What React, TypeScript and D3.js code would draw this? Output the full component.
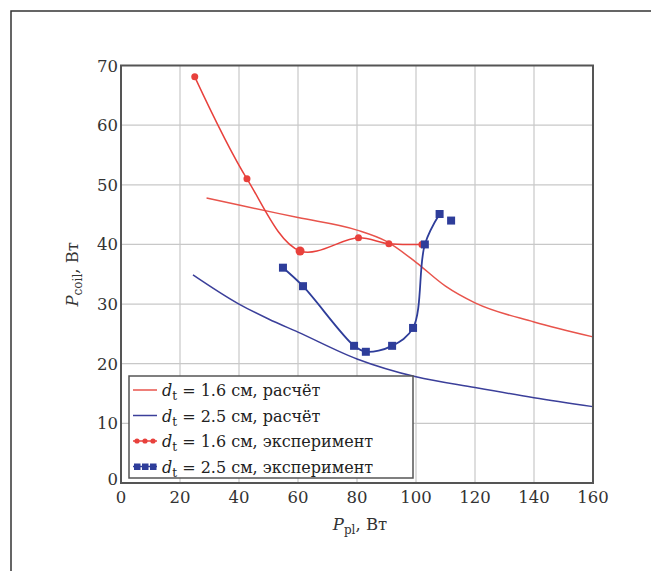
import React from "react";
import * as d3 from "d3";

const xTicks = [0, 20, 40, 60, 80, 100, 120, 140, 160];
const yTicks = [0, 10, 20, 30, 40, 50, 60, 70];

const redCalcX = [29, 40, 60, 80, 90, 100, 110, 120, 140, 160];
const redCalcY = [47.8, 46.6, 44.5, 42.4, 40.5, 37, 33, 30.2, 27, 24.5];

const blueCalcX = [24.4, 40, 50, 60, 80, 100, 120, 140, 160];
const blueCalcY = [34.9, 30.0, 27.5, 25.3, 20.8, 17.8, 16, 14.3, 12.8];

const redExpX = [25, 42.7, 60.7, 80.5, 90.8, 102];
const redExpY = [68.1, 51, 38.9, 41.1, 40.1, 40];

const blueExpX = [54.9, 61.7, 79, 83, 91.9, 99, 103, 108, 111.9];
const blueExpY = [36.1, 33, 23, 22, 23, 26, 40, 45.1, 44];

const legendLabels = [
  { prefix: "1.6 см, расчёт", kind: "redLine" },
  { prefix: "2.5 см, расчёт", kind: "blueLine" },
  { prefix: "1.6 см, эксперимент", kind: "redPts" },
  { prefix: "2.5 см, эксперимент", kind: "bluePts" },
];

const RED = "#e8413c";
const RED_CALC = "#e8544c";
const BLUE = "#2e3d9a";
const BLUE_CALC = "#3b3f9a";

export default function App() {
  const W = 651, H = 571;
  const left = 121, right = 593, top = 65.5, bottom = 483;
  const x = d3.scaleLinear().domain([0, 160]).range([left, right]);
  const y = d3.scaleLinear().domain([0, 70]).range([bottom, top]);
  const font = "'DejaVu Serif', 'Liberation Serif', serif";

  const zip = (xs: number[], ys: number[]) => xs.map((v, i) => [v, ys[i]] as [number, number]);
  const smooth = d3.line<[number, number]>().x(d => x(d[0])).y(d => y(d[1])).curve(d3.curveCatmullRom.alpha(0.5));
  const mono = d3.line<[number, number]>().x(d => x(d[0])).y(d => y(d[1])).curve(d3.curveMonotoneX);

  const redCalc = zip(redCalcX, redCalcY);
  const blueCalc = zip(blueCalcX, blueCalcY);
  const redExp = zip(redExpX, redExpY);
  const blueExp = zip(blueExpX, blueExpY);

  const lgX = 129, lgY = 376, lgW = 284, lgH = 102;
  const rowH = 25.5;

  return (
    <svg width={W} height={H} style={{ display: "block", position: "absolute", left: 0, top: 0, background: "#fff" }}>
      <rect x={0} y={0} width={W} height={H} fill="#fff" />
      <rect x={11} y={11} width={W + 20} height={H + 20} fill="none" stroke="#333" strokeWidth={1.5} />
      {/* grid */}
      {xTicks.slice(1, -1).map(t => (
        <line key={"gx" + t} x1={x(t)} x2={x(t)} y1={top} y2={bottom} stroke="#c8c8c8" strokeWidth={1.2} />
      ))}
      {yTicks.slice(1, -1).map(t => (
        <line key={"gy" + t} x1={left} x2={right} y1={y(t)} y2={y(t)} stroke="#c8c8c8" strokeWidth={1.2} />
      ))}
      {/* curves */}
      <path d={mono(redCalc) || ""} fill="none" stroke={RED_CALC} strokeWidth={1.5} />
      <path d={mono(blueCalc) || ""} fill="none" stroke={BLUE_CALC} strokeWidth={1.5} />
      <path d={smooth(redExp) || ""} fill="none" stroke={RED} strokeWidth={1.5} />
      <path d={smooth(blueExp.slice(0, -1)) || ""} fill="none" stroke={BLUE} strokeWidth={1.8} />
      {redExp.map((d, i) => (
        <circle key={"rp" + i} cx={x(d[0])} cy={y(d[1])} r={i === 2 ? 4.5 : 3.5} fill={RED} />
      ))}
      {blueExp.map((d, i) => (
        <rect key={"bp" + i} x={x(d[0]) - 4} y={y(d[1]) - 4} width={8} height={8} fill={BLUE} />
      ))}
      {/* plot frame */}
      <rect x={left} y={top} width={right - left} height={bottom - top} fill="none" stroke="#555" strokeWidth={2} />
      {/* ticks */}
      {xTicks.map(t => (
        <text key={"xt" + t} x={x(t)} y={503} textAnchor="middle" fontFamily={font} fontSize={16.5} fill="#333">{t}</text>
      ))}
      {yTicks.map(t => (
        <text key={"yt" + t} x={left - 3} y={y(t) + (t === 0 ? 2 : 6)} textAnchor="end" fontFamily={font} fontSize={16.5} fill="#333">{t}</text>
      ))}
      {/* axis titles */}
      <text x={360} y={530} textAnchor="middle" fontFamily={font} fontSize={16.5} fill="#333">
        <tspan fontStyle="italic">P</tspan><tspan fontSize={12} dy={4}>pl</tspan><tspan dy={-4}>, Вт</tspan>
      </text>
      <text transform={`translate(78,${(top + bottom) / 2}) rotate(-90)`} textAnchor="middle" fontFamily={font} fontSize={16.5} fill="#333">
        <tspan fontStyle="italic">P</tspan><tspan fontSize={12} dy={4}>coil</tspan><tspan dy={-4}>, Вт</tspan>
      </text>
      {/* legend */}
      <rect x={lgX} y={lgY} width={lgW} height={lgH} fill="#fff" stroke="#555" strokeWidth={1.5} />
      {legendLabels.map((l, i) => {
        const cy = lgY + 14 + i * rowH;
        const col = l.kind.startsWith("red") ? RED : BLUE;
        return (
          <g key={"lg" + i}>
            {l.kind.endsWith("Line") ? (
              <line x1={lgX + 4} x2={lgX + 28} y1={cy} y2={cy} stroke={l.kind === "redLine" ? RED_CALC : BLUE_CALC} strokeWidth={1.5} />
            ) : (
              <g>
                <line x1={lgX + 4} x2={lgX + 28} y1={cy} y2={cy} stroke={col} strokeWidth={1.5} />
                {[0, 1, 2].map(k =>
                  l.kind === "redPts" ? (
                    <circle key={k} cx={lgX + 8 + k * 8} cy={cy} r={2.6} fill={col} />
                  ) : (
                    <rect key={k} x={lgX + 5 + k * 8} y={cy - 3} width={6.5} height={6.5} fill={col} />
                  )
                )}
              </g>
            )}
            <text x={lgX + 33} y={cy + 6} fontFamily={font} fontSize={16} fill="#222">
              <tspan fontStyle="italic">d</tspan><tspan fontSize={12} dy={4}>t</tspan><tspan dy={-4}> = {l.prefix}</tspan>
            </text>
          </g>
        );
      })}
    </svg>
  );
}
